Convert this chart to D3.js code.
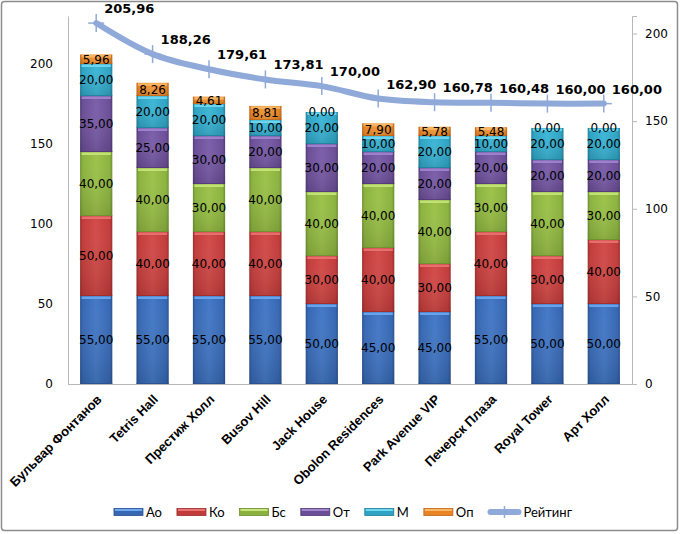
<!DOCTYPE html>
<html><head><meta charset="utf-8">
<script src="https://cdn.jsdelivr.net/npm/d3@7"></script>
<style>body{margin:0;background:#fff}</style>
</head><body><svg id="c" width="680" height="534"></svg>
<script>
const categories = ["Бульвар Фонтанов","Tetris Hall","Престиж Холл","Busov Hill","Jack House","Obolon Residences","Park Avenue VIP","Печерск Плаза","Royal Tower","Арт Холл"];
const seriesNames = ["Ао","Ко","Бс","От","М","Оп"];
const ao = [55,55,55,55,50,45,45,55,50,50];
const ko = [50,40,40,40,30,40,30,40,30,40];
const bs = [40,40,30,40,40,40,40,30,40,30];
const ot = [35,25,30,20,30,20,20,20,20,20];
const m  = [20,20,20,10,20,10,20,10,20,20];
const op = [5.96,8.26,4.61,8.81,0,7.90,5.78,5.48,0,0];
const rating = [205.96,188.26,179.61,173.81,170.00,162.90,160.78,160.48,160.00,160.00];
const ratingName = "Рейтинг";
const leftTicks = [0,50,100,150,200];
const rightTicks = [0,50,100,150,200];

const seriesValues = [ao,ko,bs,ot,m,op];
const palette = [
  {top:"#4479C6",base:"#3667B3",bot:"#29508E",hl:"#6EA8EE"},
  {top:"#D24B49",base:"#C23B3A",bot:"#9C2C2B",hl:"#E87472"},
  {top:"#9CC24A",base:"#8BB23E",bot:"#6C8E2E",hl:"#C8E47E"},
  {top:"#7B5EAA",base:"#6A4D96",bot:"#503A76",hl:"#A086D0"},
  {top:"#3DB6D6",base:"#2EA3C3",bot:"#1E7E9A",hl:"#72D8F2"},
  {top:"#F39A3C",base:"#E88424",bot:"#C0661A",hl:"#F8B868"}
];
const lineColor = "#8FA9D9";

const svg = d3.select("#c");
const fmt = v => d3.format(".2f")(v).replace(".", ",");

// frame
svg.append("rect").attr("x",1.5).attr("y",1.5).attr("width",676).attr("height",529)
  .attr("rx",3).attr("fill","#fff").attr("stroke","#8c8c8c").attr("stroke-width",1.5);

const plot = {l:68, r:632, t:16, b:384};
const gap = 0.75;
const x = d3.scaleBand().domain(categories).range([plot.l, plot.r])
  .paddingInner(gap/(1+gap)).paddingOuter(gap/(1+gap)/2);
const y = d3.scaleLinear().domain([0,230]).range([plot.b, plot.t]);
const y2 = d3.scaleLinear().domain([0,210]).range([plot.b, plot.t]);

// gradients
const defs = svg.append("defs");
palette.forEach((p,i)=>{
  const g = defs.append("linearGradient").attr("id","g"+i).attr("x1",0).attr("y1",0).attr("x2",1).attr("y2",0);
  g.append("stop").attr("offset","0").attr("stop-color",p.bot);
  g.append("stop").attr("offset","0.08").attr("stop-color",p.base);
  g.append("stop").attr("offset","0.5").attr("stop-color",p.top);
  g.append("stop").attr("offset","0.92").attr("stop-color",p.base);
  g.append("stop").attr("offset","1").attr("stop-color",p.bot);
  const v = defs.append("linearGradient").attr("id","v"+i).attr("x1",0).attr("y1",0).attr("x2",0).attr("y2",1);
  v.append("stop").attr("offset","0").attr("stop-color","#fff").attr("stop-opacity",0);
  v.append("stop").attr("offset","1").attr("stop-color","#000").attr("stop-opacity",0.12);
});

// stack
const rows = categories.map((c,i)=>{
  const o = {cat:c};
  seriesNames.forEach((s,j)=>o[s]=seriesValues[j][i]);
  return o;
});
const stacked = d3.stack().keys(seriesNames)(rows);

// axes lines
const axisCol = "#b8b8b8";
const axL = svg.append("g").attr("transform",`translate(${plot.l},0)`)
  .call(d3.axisLeft(y).tickValues(leftTicks).tickSize(0).tickPadding(15));
axL.select(".domain").attr("stroke",axisCol);
axL.selectAll("text").attr("font-family","DejaVu Sans").attr("font-size",12).attr("fill","#000");

const axR = svg.append("g").attr("transform",`translate(${plot.r},0)`)
  .call(d3.axisRight(y2).tickValues(rightTicks).tickSize(5).tickPadding(8));
axR.select(".domain").attr("stroke",axisCol);
axR.selectAll(".tick line").attr("stroke",axisCol);
axR.selectAll("text").attr("font-family","DejaVu Sans").attr("font-size",12).attr("fill","#000");

svg.append("line").attr("x1",plot.l).attr("x2",plot.r).attr("y1",plot.b+0.5).attr("y2",plot.b+0.5)
  .attr("stroke",axisCol);

// bars
const bw = x.bandwidth();
stacked.forEach((layer,j)=>{
  const g = svg.append("g");
  layer.forEach((d,i)=>{
    const y0 = y(d[1]), h = y(d[0]) - y(d[1]);
    if (h <= 0) return;
    const bx = x(categories[i]);
    g.append("rect").attr("x",bx).attr("y",y0).attr("width",bw).attr("height",h).attr("fill",`url(#g${j})`);
    g.append("rect").attr("x",bx).attr("y",y0).attr("width",bw).attr("height",h).attr("fill",`url(#v${j})`);
    g.append("rect").attr("x",bx+1.5).attr("y",y0+0.5).attr("width",bw-3).attr("height",Math.min(2.5,h)).attr("fill",palette[j].hl).attr("opacity",0.9);
    g.append("rect").attr("x",bx).attr("y",y0+h-1).attr("width",bw).attr("height",Math.min(1,h)).attr("fill",palette[j].bot).attr("opacity",0.8);
  });
});

// segment labels
stacked.forEach((layer,j)=>{
  svg.append("g").selectAll("text").data(layer).join("text")
    .attr("x",(d,i)=>x(categories[i])+bw/2)
    .attr("y",d=>(y(d[0])+y(d[1]))/2)
    .attr("dy","0.36em")
    .attr("text-anchor","middle")
    .attr("font-family","DejaVu Sans").attr("font-size",12).attr("fill","#000")
    .text(d=>fmt(d[1]-d[0]));
});

// rating line
const pts = rating.map((v,i)=>[x(categories[i])+bw/2, y2(v)]);
svg.append("path").attr("d",d3.line().curve(d3.curveCatmullRom.alpha(0.5))(pts))
  .attr("fill","none").attr("stroke",lineColor).attr("stroke-width",6).attr("stroke-linecap","round");
const mk = svg.append("g");
pts.forEach(p=>{
  mk.append("line").attr("x1",p[0]).attr("x2",p[0]).attr("y1",p[1]-9).attr("y2",p[1]+9).attr("stroke",lineColor).attr("stroke-width",1.5);
  mk.append("line").attr("x1",p[0]-8).attr("x2",p[0]+8).attr("y1",p[1]).attr("y2",p[1]).attr("stroke",lineColor).attr("stroke-width",1.5);
});
svg.append("g").selectAll("text").data(rating).join("text")
  .attr("x",(d,i)=>pts[i][0]+8)
  .attr("y",(d,i)=>pts[i][1]-10)
  .attr("font-family","DejaVu Sans").attr("font-weight","bold").attr("font-size",13).attr("fill","#000")
  .text(d=>fmt(d));

// category labels
svg.append("g").selectAll("text").data(categories).join("text")
  .attr("transform",d=>`translate(${x(d)+bw/2+3},${plot.b+13}) rotate(-45)`)
  .attr("text-anchor","end").attr("dy","0.35em")
  .attr("font-family","Liberation Sans").attr("font-weight","bold").attr("font-size",13).attr("fill","#000")
  .text(d=>d);

// legend
const lg = svg.append("g");
let cx = 0;
const items = seriesNames.map((s,j)=>({name:s, j})).concat([{name:ratingName, j:-1}]);
items.forEach(it=>{
  const g = lg.append("g").attr("transform",`translate(${cx},0)`);
  let sw;
  if (it.j >= 0) {
    sw = 29;
    g.append("rect").attr("x",0).attr("y",-3.5).attr("width",sw).attr("height",7).attr("fill",palette[it.j].base).attr("stroke",palette[it.j].bot).attr("stroke-width",0.8);
    g.append("rect").attr("x",1).attr("y",-3).attr("width",sw-2).attr("height",2).attr("fill",palette[it.j].hl);
  } else {
    sw = 32;
    g.append("line").attr("x1",2).attr("x2",sw-2).attr("y1",0).attr("y2",0).attr("stroke",lineColor).attr("stroke-width",6).attr("stroke-linecap","round");
    g.append("line").attr("x1",sw/2).attr("x2",sw/2).attr("y1",-6).attr("y2",6).attr("stroke",lineColor).attr("stroke-width",1.5);
  }
  const t = g.append("text").attr("x",sw+3).attr("y",0).attr("dy","0.36em")
    .attr("font-family","Lato").attr("font-size",13).attr("fill","#000").text(it.name);
  cx += sw + 3 + t.node().getComputedTextLength() + 15;
});
const totalW = cx - 15;
lg.attr("transform",`translate(${343 - totalW/2},512)`);
</script>
</body></html>
